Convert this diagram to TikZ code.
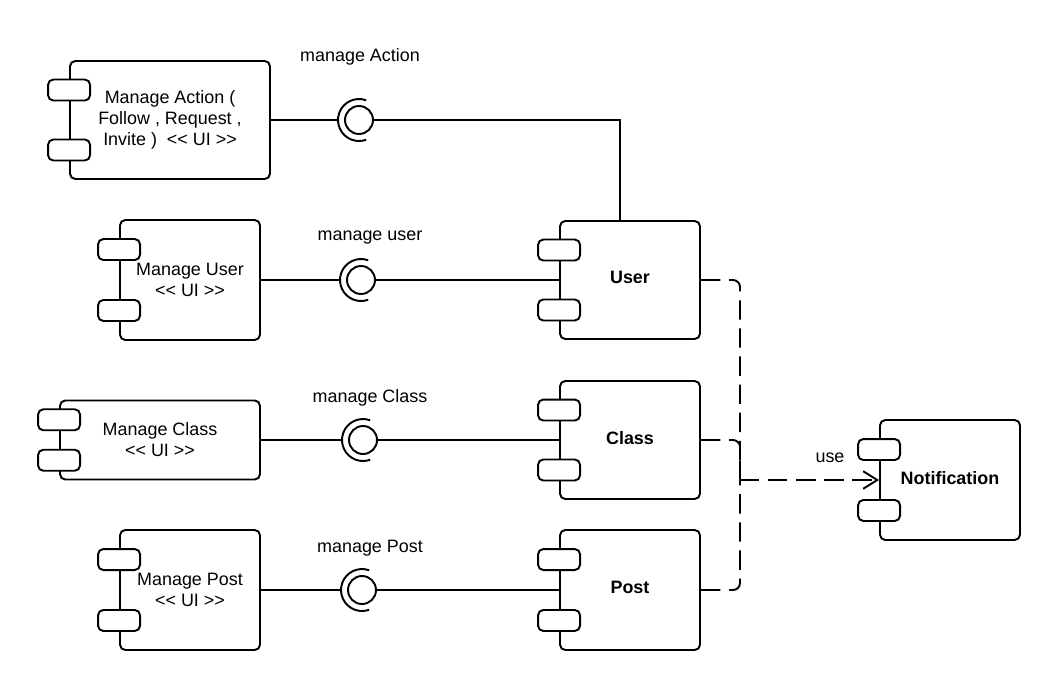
\documentclass[tikz,border=0pt]{standalone}
\usepackage{fontspec}
\setmainfont{Liberation Sans}
\usetikzlibrary{calc,arrows.meta}
\newcommand{\uitag}{<\kern0pt< UI >\kern0pt>}

\begin{document}
\begin{tikzpicture}[x=0.02cm, y=-0.02cm, line width=1.1pt,
    font=\fontsize{10.2pt}{12pt}\selectfont,
    comp/.style={draw, rounded corners=3pt, align=center, inner sep=2pt, minimum height=2.36cm},
    core/.style={comp, minimum width=2.8cm, text depth=0.1cm, execute at begin node=\bfseries},
    tab/.style={draw, fill=white, rounded corners=3pt, minimum width=0.84cm, minimum height=0.42cm, inner sep=0pt},
    iface/.style={draw, circle, minimum size=0.56cm, inner sep=0pt},
    socket/.style={circle, minimum size=0.84cm, inner sep=0pt},
    dep/.style={dash pattern=on 11pt off 5pt, rounded corners=4pt}]
    \useasboundingbox (0,0) rectangle (1060,690);

    \node[comp, minimum width=4cm] (mact) at (170,120) {Manage Action (\\ Follow , Request ,\\ Invite )~ \uitag};
    \node[comp, minimum width=2.8cm, minimum height=2.4cm] (muser) at (190,280) {Manage User\\ \uitag};
    \node[comp, minimum width=4cm, minimum height=1.58cm] (mclass) at (160,440) {Manage Class\\ \uitag};
    \node[comp, minimum width=2.8cm, minimum height=2.4cm] (mpost) at (190,590) {Manage Post\\ \uitag};

    \node[core] (user) at (630,280) {User};
    \node[core] (class) at (630,440) {Class};
    \node[core, minimum height=2.4cm] (post) at (630,590) {Post};
    \node[core, minimum height=2.4cm] (notif) at (950,480) {Notification};

    \foreach \n in {mact,muser,mclass,mpost,user,class,post,notif} {
        \foreach \f/\k in {0.25/a,0.75/b} {
            \node[tab] (\n\k) at ($(\n.north west)!\f!(\n.south west)$) {};
        }
    }

    \node[iface] (ia) at (359,120) {};
    \node[iface] (iu) at (361,280) {};
    \node[iface] (ic) at (363,440) {};
    \node[iface] (ip) at (362,590) {};
    \foreach \i/\s in {ia/sa,iu/su,ic/sc,ip/sp} {
        \node[socket] (\s) at (\i) {};
        \draw ([shift={(70:0.42cm)}]\s.center) arc[start angle=70, end angle=290, radius=0.42cm];
    }

    \node (la) at (360,57) {manage Action};
    \node (lu) at (370,238) {manage user};
    \node (lc) at (370,398) {manage Class};
    \node (lp) at (370,548) {manage Post};
    \node (luse) at (830,458) {use};

    \draw (mact.east) -- (sa.west);
    \draw (ia.east) -| ([xshift=-0.2cm]user.north);
    \draw (muser.east) -- (su.west);
    \draw (iu.east) -- (user.west);
    \draw (mclass.east) -- (sc.west);
    \draw (ic.east) -- (class.west);
    \draw (mpost.east) -- (sp.west);
    \draw (ip.east) -- (post.west);

    \coordinate (jn) at (740,480);
    \draw[dep] (user.east) -| (jn);
    \draw[dep] (class.east) -| (jn);
    \draw[dep] (post.east) -| (jn);
    \draw[dep, -{Straight Barb[length=8pt,width=10pt]}] (jn) -- (notif.west);
\end{tikzpicture}
\end{document}
